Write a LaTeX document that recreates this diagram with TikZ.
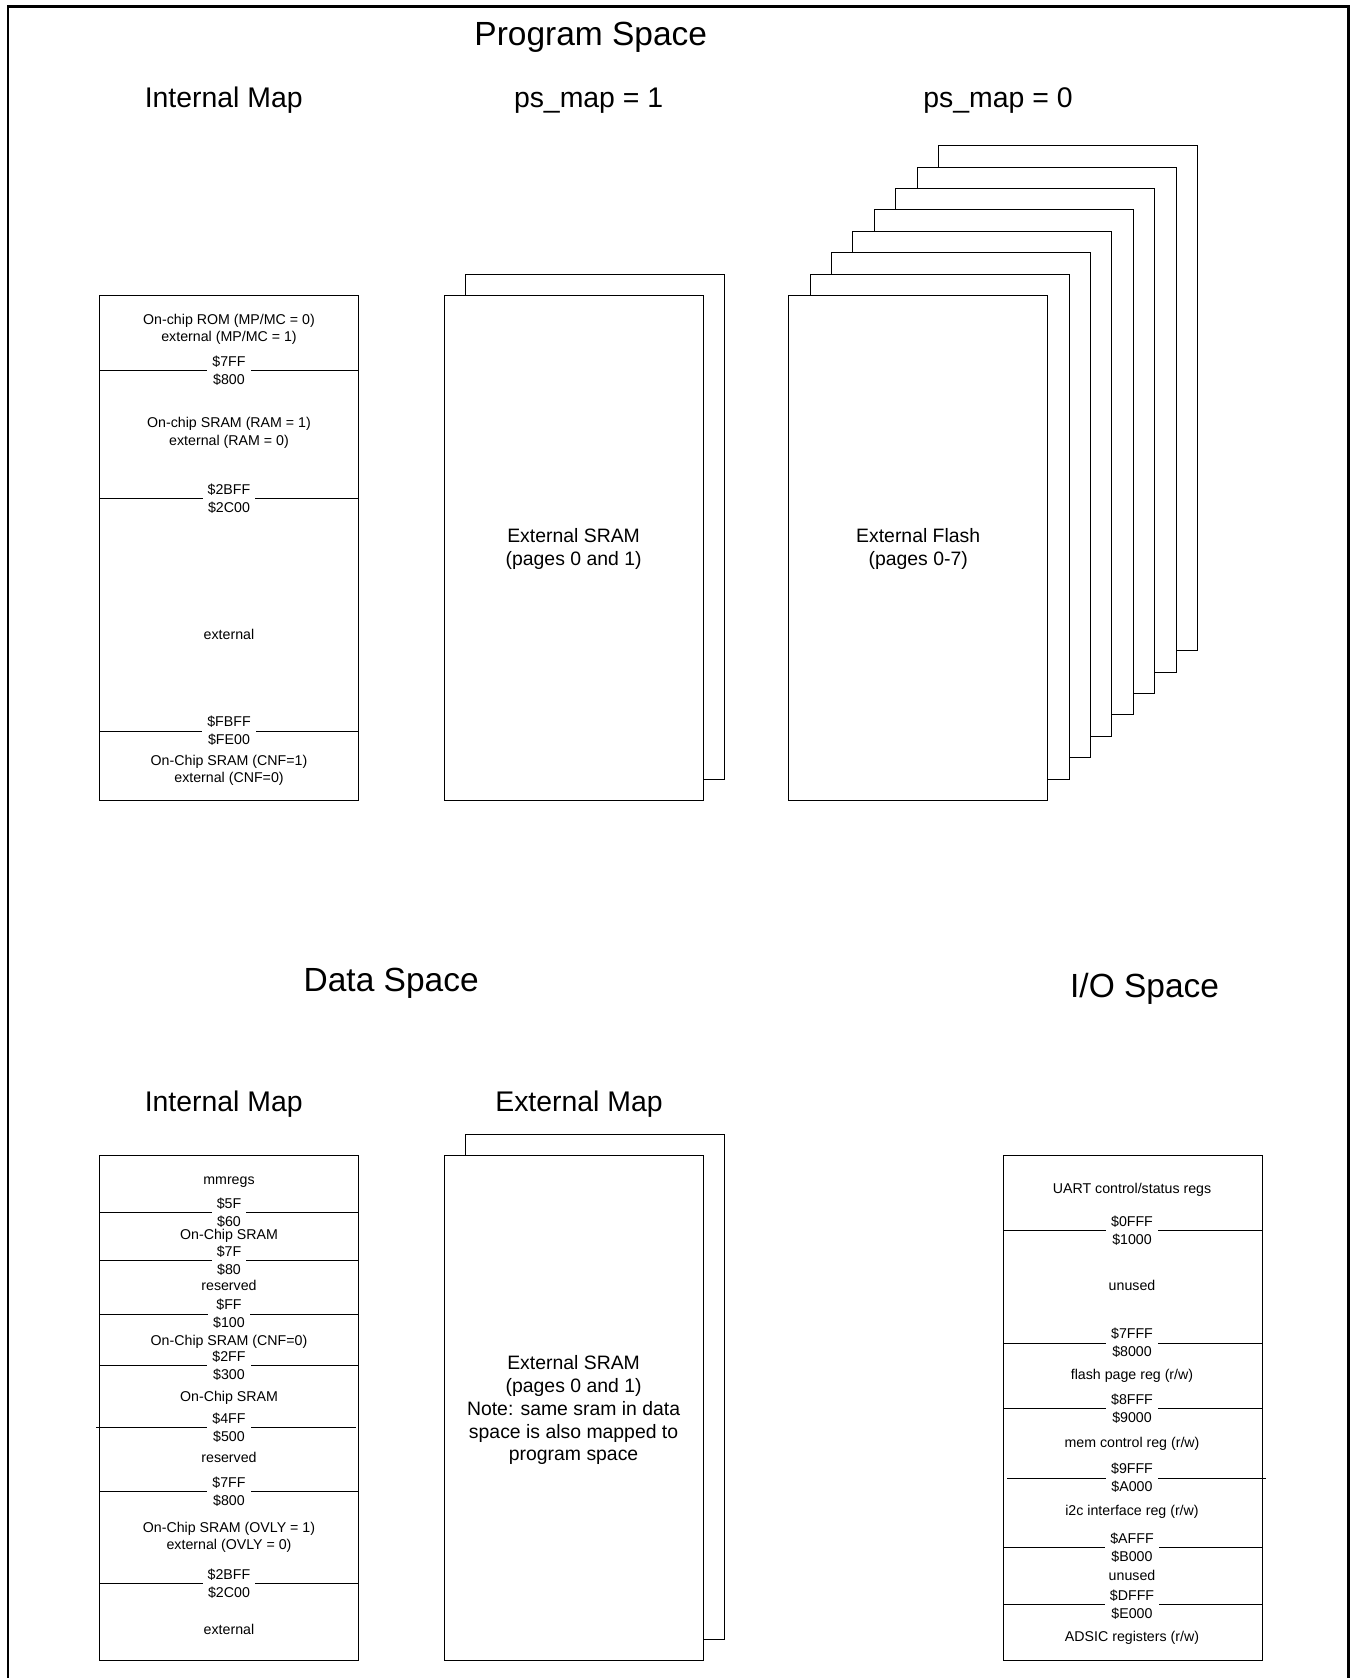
\documentclass[tikz,border=0pt]{standalone}
\usepackage{fontspec}
\setmainfont{Liberation Sans}
\begin{document}
\begin{tikzpicture}[x=1pt,y=-1pt,
  frame/.style={line width=2.7pt},
  membox/.style={draw=black, line width=1pt, fill=white, minimum width=259pt,
                 minimum height=505pt, inner sep=0pt, outer sep=0pt},
  divider/.style={line width=1pt},
  small/.style={font=\fontsize{14.2}{17.2}\selectfont, inner sep=0pt, anchor=base},
  addr/.style={font=\fontsize{14.2}{18}\selectfont, align=center, fill=white,
               inner xsep=5pt, inner ysep=0.5pt},
  midtext/.style={font=\fontsize{19.4}{22.8}\selectfont, align=center, inner sep=0pt},
  head/.style={font=\fontsize{33.5}{40}\selectfont, inner sep=0pt, anchor=base},
  subhead/.style={font=\fontsize{28.4}{34}\selectfont, inner sep=0pt, anchor=base}]

\useasboundingbox (0,0) rectangle (1356,1678);
\fill[white] (0,0) rectangle (1356,1678);
% page frame (open at the bottom)
\draw[frame] (8,1720) -- (8,6.7) -- (1348.5,6.7) -- (1348.5,1720);

% ---------------- headings ----------------
\node[head]    (tprog)  at (590.8,45.2)   {Program Space};
\node[subhead] (tpint)  at (223.7,107.6)  {Internal Map};
\node[subhead] (tps1)   at (588.6,107.6)  {ps\_map = 1};
\node[subhead] (tps0)   at (998,107.6)    {ps\_map = 0};
\node[head]    (tdata)  at (391.2,991.2)  {Data Space};
\node[head]    (tio)    at (1144.6,997.6) {I/O Space};
\node[subhead] (tdint)  at (223.7,1111.4) {Internal Map};
\node[subhead] (tdext)  at (579,1111.4)   {External Map};

% ---------------- program space: internal map ----------------
\node[membox] (pim) at (229,548) {};
\foreach \y in {370.3,498.7,731.0}
  \draw[divider] (99.5,\y) -- (358.5,\y);
\node[addr] (pa1) at (229,370.3) {\$7FF\\\$800};
\node[addr] (pa2) at (229,498.7) {\$2BFF\\\$2C00};
\node[addr] (pa3) at (229,731.0) {\$FBFF\\\$FE00};
\node[small] (pt1) at (229,324.0) {On-chip ROM (MP/MC = 0)};
\node[small] (pt2) at (229,341.2) {external (MP/MC = 1)};
\node[small] (pt3) at (229,427.8) {On-chip SRAM (RAM = 1)};
\node[small] (pt4) at (229,445.0) {external (RAM = 0)};
\node[small] (pt5) at (229,639.7) {external};
\node[small] (pt6) at (229,765.0) {On-Chip SRAM (CNF=1)};
\node[small] (pt7) at (229,782.1) {external (CNF=0)};

% ---------------- program space: ps_map = 1 ----------------
\node[membox] (sram1) at (595.0,526.6) {};
\node[membox] (sram0) at (573.6,548) {};
\node[midtext] (sramt) at (573.6,549.3) {External SRAM\\(pages 0 and 1)};

% ---------------- program space: ps_map = 0 ----------------
\foreach \k in {7,6,...,1}
  \node[membox] (flash\k) at ({918.2+21.4*\k},{548-21.4*\k}) {};
\node[membox] (flash0) at (918.2,548) {};
\node[midtext] (flasht) at (918.2,549.3) {External Flash\\(pages 0-7)};

% ---------------- data space: internal map ----------------
\node[membox] (dim) at (229,1408.4) {};
\foreach \y in {1212.6,1260.7,1314.2,1365.6,1491.9,1583.9}
  \draw[divider] (99.5,\y) -- (358.5,\y);
\draw[divider] (96.3,1427.7) -- (356.4,1427.7);
\node[addr] (da1) at (229,1212.6) {\$5F\\\$60};
\node[addr] (da2) at (229,1260.7) {\$7F\\\$80};
\node[addr] (da3) at (229,1314.2) {\$FF\\\$100};
\node[addr] (da4) at (229,1365.6) {\$2FF\\\$300};
\node[addr] (da5) at (229,1427.7) {\$4FF\\\$500};
\node[addr] (da6) at (229,1491.9) {\$7FF\\\$800};
\node[addr] (da7) at (229,1583.9) {\$2BFF\\\$2C00};
\node[small] (dt1) at (229,1184.5) {mmregs};
\node[small] (dt2) at (229,1239.0) {On-Chip SRAM};
\node[small] (dt3) at (229,1290.5) {reserved};
\node[small] (dt4) at (229,1345.0) {On-Chip SRAM (CNF=0)};
\node[small] (dt5) at (229,1401.8) {On-Chip SRAM};
\node[small] (dt6) at (229,1462.8) {reserved};
\node[small] (dt7) at (229,1532.3) {On-Chip SRAM (OVLY = 1)};
\node[small] (dt8) at (229,1549.5) {external (OVLY = 0)};
\node[small] (dt9) at (229,1634.0) {external};

% ---------------- data space: external map ----------------
\node[membox] (dsram1) at (595.0,1387.0) {};
\node[membox] (dsram0) at (573.6,1408.4) {};
\node[midtext] (dsramt) at (573.6,1410.3)
  {External SRAM\\(pages 0 and 1)\\Note: same sram in data\\space is also mapped to\\program space};

% ---------------- I/O space ----------------
\node[membox] (iom) at (1133.3,1408.4) {};
\foreach \y in {1230.8,1343.1,1408.4,1547.6,1604.3}
  \draw[divider] (1003.8,\y) -- (1262.8,\y);
\draw[divider] (1007.1,1478.0) -- (1266.1,1478.0);
\node[addr] (ia1) at (1132,1230.8) {\$0FFF\\\$1000};
\node[addr] (ia2) at (1132,1343.1) {\$7FFF\\\$8000};
\node[addr] (ia3) at (1132,1408.4) {\$8FFF\\\$9000};
\node[addr] (ia4) at (1132,1478.0) {\$9FFF\\\$A000};
\node[addr] (ia5) at (1132,1547.6) {\$AFFF\\\$B000};
\node[addr] (ia6) at (1132,1604.3) {\$DFFF\\\$E000};
\node[small] (it1) at (1132,1193.1) {UART control/status regs};
\node[small] (it2) at (1132,1290.5) {unused};
\node[small] (it3) at (1132,1379.3) {flash page reg (r/w)};
\node[small] (it4) at (1132,1447.8) {mem control reg (r/w)};
\node[small] (it5) at (1132,1515.2) {i2c interface reg (r/w)};
\node[small] (it6) at (1132,1580.5) {unused};
\node[small] (it7) at (1132,1641.5) {ADSIC registers (r/w)};
\end{tikzpicture}
\end{document}
